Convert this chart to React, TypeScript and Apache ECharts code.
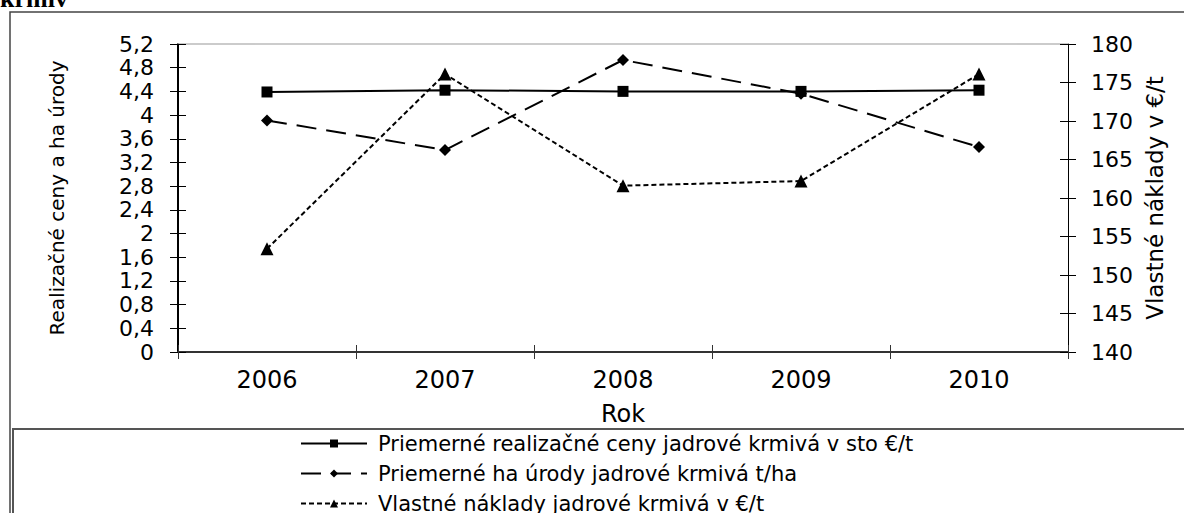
import React, { useEffect, useRef } from "react";
import * as echarts from "echarts";

const years = ["2006", "2007", "2008", "2009", "2010"];
const priceSeries = [4.39, 4.42, 4.4, 4.4, 4.42];
const yieldSeries = [3.91, 3.41, 4.93, 4.36, 3.46];
const costSeries = [153.4, 176.1, 161.6, 162.2, 176.1];
const seriesNames = [
  "Priemerné realizačné ceny jadrové krmivá v sto €/t",
  "Priemerné ha úrody jadrové krmivá t/ha",
  "Vlastné náklady jadrové krmivá v €/t",
];
const leftAxisName = "Realizačné ceny a ha úrody";
const rightAxisName = "Vlastné náklady v €/t";
const xAxisName = "Rok";
const titleText = "krmív";

const FONT = "DejaVu Sans";

export default function App() {
  const ref = useRef<HTMLDivElement>(null);
  useEffect(() => {
    const chart = echarts.init(ref.current!, null, { renderer: "svg" });
    const fmtLeft = (v: number) => String(Math.round(v * 10) / 10).replace(".", ",");
    const option: any = {
      animation: false,
      backgroundColor: "#fff",
      grid: { left: 178, right: 116, top: 44, bottom: 161, containLabel: false },
      graphic: [
        {
          type: "rect",
          shape: { x: 10, y: 12, width: 1300, height: 700 },
          style: { fill: "none", stroke: "#444", lineWidth: 1.5 },
          silent: true,
        },
        {
          type: "rect",
          shape: { x: 13, y: 429, width: 1300, height: 300 },
          style: { fill: "#fff", stroke: "#555", lineWidth: 2 },
          silent: true,
          z: -1,
        },
        {
          type: "text",
          left: 0,
          top: -15,
          style: {
            text: titleText,
            font: "bold 26px 'Liberation Serif'",
            fill: "#000",
          },
          silent: true,
        },
      ],
      legend: {
        orient: "vertical",
        left: 300,
        top: 433,
        height: 200,
        padding: 0,
        itemWidth: 66,
        itemHeight: 10,
        itemGap: 9,
        data: seriesNames,
        textStyle: {
          fontFamily: FONT,
          fontSize: 21,
          color: "#000",
          lineHeight: 20,
          padding: [0, 0, 0, 6],
        },
      },
      xAxis: [
        {
          type: "category",
          data: years,
          position: "bottom",
          boundaryGap: true,
          name: xAxisName,
          nameLocation: "middle",
          nameGap: 50,
          nameTextStyle: { fontFamily: FONT, fontSize: 24, color: "#000" },
          axisLine: { onZero: false, lineStyle: { color: "#333", width: 2 } },
          axisTick: { show: true, inside: false, length: 7, lineStyle: { color: "#333", width: 1 } },
          axisLabel: { fontFamily: FONT, fontSize: 24, color: "#000", margin: 16 },
          splitLine: { show: false },
        },
        {
          type: "category",
          data: years,
          position: "bottom",
          boundaryGap: true,
          axisLine: { show: false, onZero: false },
          axisTick: { show: true, inside: true, length: 7, lineStyle: { color: "#333", width: 1 } },
          axisLabel: { show: false },
          splitLine: { show: false },
        },
        {
          type: "category",
          data: years,
          position: "top",
          boundaryGap: true,
          axisLine: { show: true, onZero: false, lineStyle: { color: "#bbb", width: 1.5 } },
          axisTick: { show: false },
          axisLabel: { show: false },
          splitLine: { show: false },
        },
      ],
      yAxis: [
        {
          type: "value",
          position: "left",
          min: 0,
          max: 5.2,
          interval: 0.4,
          name: leftAxisName,
          nameLocation: "middle",
          nameRotate: 90,
          nameGap: 111,
          nameTextStyle: { fontFamily: FONT, fontSize: 20, color: "#000" },
          axisLine: { show: true, onZero: false, lineStyle: { color: "#000", width: 2 } },
          axisTick: { show: true, inside: false, length: 8, lineStyle: { color: "#000", width: 1 } },
          axisLabel: { fontFamily: FONT, fontSize: 22, color: "#000", margin: 24, formatter: fmtLeft },
          splitLine: { show: false },
        },
        {
          type: "value",
          position: "right",
          min: 140,
          max: 180,
          interval: 5,
          name: rightAxisName,
          nameLocation: "middle",
          nameRotate: 90,
          nameGap: 72,
          nameTextStyle: { fontFamily: FONT, fontSize: 23, color: "#000" },
          axisLine: { show: true, onZero: false, lineStyle: { color: "#000", width: 1 } },
          axisTick: { show: true, inside: false, length: 8, lineStyle: { color: "#000", width: 1 } },
          axisLabel: { fontFamily: FONT, fontSize: 22, color: "#000", margin: 23 },
          splitLine: { show: false },
        },
        {
          type: "value",
          position: "left",
          min: 0,
          max: 5.2,
          interval: 0.4,
          axisLine: { show: false, onZero: false },
          axisTick: { show: true, inside: true, length: 8, lineStyle: { color: "#000", width: 1 } },
          axisLabel: { show: false },
          splitLine: { show: false },
        },
        {
          type: "value",
          position: "right",
          min: 140,
          max: 180,
          interval: 5,
          axisLine: { show: false, onZero: false },
          axisTick: { show: true, inside: true, length: 8, lineStyle: { color: "#000", width: 1 } },
          axisLabel: { show: false },
          splitLine: { show: false },
        },
      ],
      series: [
        {
          name: seriesNames[0],
          type: "line",
          xAxisIndex: 0,
          yAxisIndex: 0,
          data: priceSeries,
          symbol: "rect",
          symbolSize: 11,
          itemStyle: { color: "#000" },
          lineStyle: { color: "#000", width: 2, type: "solid" },
          z: 3,
        },
        {
          name: seriesNames[1],
          type: "line",
          xAxisIndex: 0,
          yAxisIndex: 0,
          data: yieldSeries,
          symbol: "path://M0,-1L1,0L0,1L-1,0Z",
          symbolSize: 12,
          itemStyle: { color: "#000" },
          lineStyle: { color: "#000", width: 2, type: [20, 10] },
          z: 3,
        },
        {
          name: seriesNames[2],
          type: "line",
          xAxisIndex: 0,
          yAxisIndex: 1,
          data: costSeries,
          symbol: "triangle",
          symbolSize: 13,
          itemStyle: { color: "#000" },
          lineStyle: { color: "#000", width: 2, type: [5, 3] },
          z: 3,
        },
      ],
    };
    chart.setOption(option);
    return () => chart.dispose();
  }, []);
  return (
    <div
      ref={ref}
      style={{ position: "fixed", left: 0, top: 0, width: 1184, height: 513, background: "#fff" }}
    />
  );
}
